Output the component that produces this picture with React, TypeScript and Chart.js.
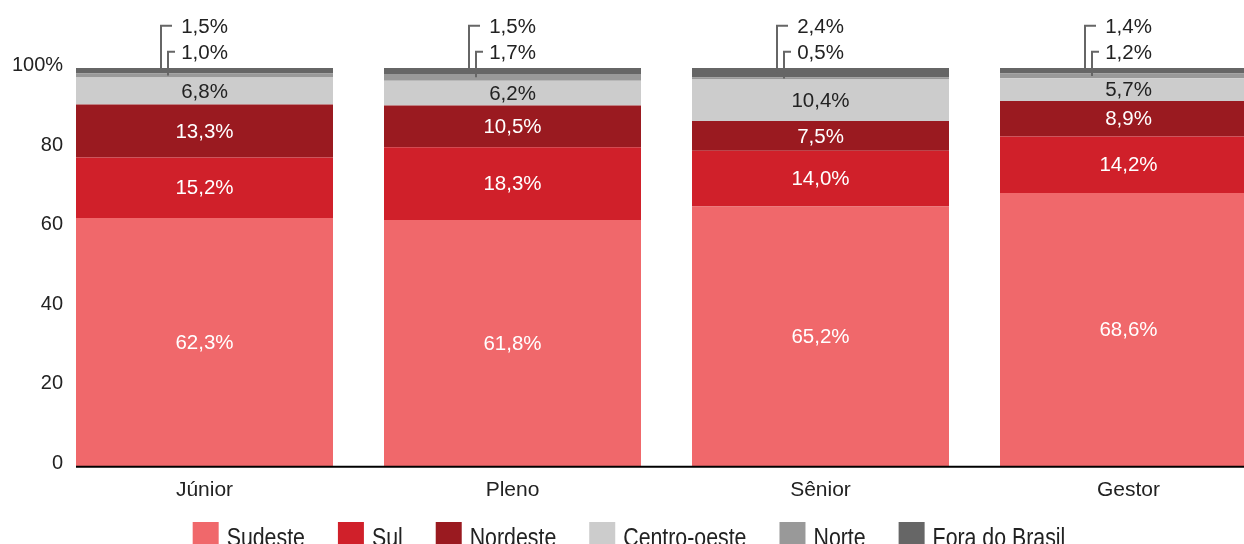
import React, { useEffect, useRef } from "react";
import { Chart, registerables } from "chart.js";

Chart.register(...registerables);

// ---- data ----
const categories = ["Júnior", "Pleno", "Sênior", "Gestor"];
const seriesNames = ["Sudeste", "Sul", "Nordeste", "Centro-oeste", "Norte", "Fora do Brasil"];
const sudeste = [62.3, 61.8, 65.2, 68.6];
const sul = [15.2, 18.3, 14.0, 14.2];
const nordeste = [13.3, 10.5, 7.5, 8.9];
const centroOeste = [6.8, 6.2, 10.4, 5.7];
const norte = [1.0, 1.7, 0.5, 1.2];
const foraDoBrasil = [1.5, 1.5, 2.4, 1.4];
const yTicks = [0, 20, 40, 60, 80, 100];

// ---- styles ----
const seriesColors = ["#F0686B", "#D0202A", "#9A1A20", "#CCCCCC", "#999999", "#666666"];
const FONT = "'Liberation Sans', Arial, Helvetica, sans-serif";
const TEXT = "#222222";

const fmt = (v: number) => v.toFixed(1).replace(".", ",") + "%";

const segLabelPlugin = {
  id: "segLabels",
  afterDatasetsDraw(chart: any) {
    const ctx = chart.ctx;
    const area = chart.chartArea;
    ctx.save();
    ctx.font = `20.5px ${FONT}`;
    ctx.textAlign = "center";
    ctx.textBaseline = "middle";
    chart.data.datasets.forEach((ds: any, di: number) => {
      const meta = chart.getDatasetMeta(di);
      meta.data.forEach((bar: any, i: number) => {
        const v = ds.data[i] as number;
        const txt = fmt(v);
        const mid = (bar.y + bar.base) / 2;
        if (di < 4) {
          ctx.fillStyle = di === 3 ? TEXT : "#ffffff";
          ctx.fillText(txt, bar.x, mid + 1);
        } else {
          // callouts above the bar
          const isFora = di === 5;
          const lineX = bar.x - (isFora ? 43.5 : 36.5);
          const lineY = area.top - (isFora ? 42.3 : 16.3);
          const hLen = isFora ? 11 : 7;
          ctx.strokeStyle = "#666666";
          ctx.lineWidth = 2;
          ctx.beginPath();
          ctx.moveTo(lineX, mid);
          ctx.lineTo(lineX, lineY);
          ctx.lineTo(lineX + hLen, lineY);
          ctx.stroke();
          ctx.fillStyle = TEXT;
          ctx.fillText(txt, bar.x, lineY + 2);
        }
      });
    });
    // baseline axis from first bar's left edge
    const first = chart.getDatasetMeta(0).data[0];
    if (first) {
      ctx.strokeStyle = "#000000";
      ctx.lineWidth = 2;
      ctx.beginPath();
      ctx.moveTo(first.x - first.width / 2, area.bottom + 0.8);
      ctx.lineTo(chart.width, area.bottom + 0.8);
      ctx.stroke();
    }
    ctx.restore();
  },
};

const LEGEND_CENTER_X = 629;
const NARROW_SCALE = 0.82;
const legendPlugin = {
  id: "customLegend",
  afterDraw(chart: any) {
    const ctx = chart.ctx;
    ctx.save();
    ctx.font = `26px ${FONT}`;
    const box = 26;
    const gap = 8;
    const spacing = 33;
    const items = chart.data.datasets.map((ds: any) => ({
      label: ds.label as string,
      color: ds.backgroundColor as string,
      w: ctx.measureText(ds.label).width * NARROW_SCALE,
    }));
    const total =
      items.reduce((a: number, it: any) => a + box + gap + it.w, 0) + spacing * (items.length - 1);
    let x = LEGEND_CENTER_X - total / 2;
    const top = chart.chartArea.bottom + 56;
    ctx.textAlign = "left";
    ctx.textBaseline = "alphabetic";
    items.forEach((it: any) => {
      ctx.fillStyle = it.color;
      ctx.fillRect(x, top, box, box);
      ctx.fillStyle = TEXT;
      ctx.save();
      ctx.translate(x + box + gap, top + 24);
      ctx.scale(NARROW_SCALE, 1);
      ctx.fillText(it.label, 0, 0);
      ctx.restore();
      x += box + gap + it.w + spacing;
    });
    ctx.restore();
  },
};

export default function App() {
  const ref = useRef<HTMLCanvasElement | null>(null);

  useEffect(() => {
    if (!ref.current) return;
    const seriesValues = [sudeste, sul, nordeste, centroOeste, norte, foraDoBrasil];
    const chart = new Chart(ref.current, {
      type: "bar",
      data: {
        labels: categories,
        datasets: seriesNames.map((name, i) => ({
          label: name,
          data: seriesValues[i],
          backgroundColor: seriesColors[i],
          borderWidth: 0,
          barPercentage: 0.8344,
          categoryPercentage: 1,
        })),
      },
      options: {
        responsive: false,
        maintainAspectRatio: false,
        devicePixelRatio: 1,
        animation: false,
        layout: { padding: { top: 68, right: 7.5, bottom: 64, left: 0 } },
        plugins: {
          legend: { display: false },
          tooltip: { enabled: false },
        },
        scales: {
          x: {
            stacked: true,
            grid: { display: false, drawTicks: false },
            border: { display: false },
            ticks: { padding: 12, color: TEXT, font: { size: 21, family: FONT } },
            afterFit: (s: any) => {
              s.height = 40;
            },
          },
          y: {
            stacked: true,
            min: 0,
            max: 100,
            grid: { display: false, drawTicks: false },
            border: { display: false },
            ticks: {
              mirror: true,
              crossAlign: "far",
              padding: -38.6,
              labelOffset: -2.5,
              color: TEXT,
              font: { size: 20, family: FONT },
              callback: (v: any) => (Number(v) === 100 ? "100%" : String(v)),
            },
            afterBuildTicks: (s: any) => {
              s.ticks = yTicks.map((v) => ({ value: v }));
            },
            afterFit: (s: any) => {
              s.width = 50.5;
            },
          },
        },
      } as any,
      plugins: [segLabelPlugin, legendPlugin],
    });
    return () => chart.destroy();
  }, []);

  return (
    <div
      style={{
        position: "fixed",
        left: 0,
        top: 0,
        width: 1244,
        height: 544,
        overflow: "hidden",
        background: "#ffffff",
      }}
    >
      <canvas ref={ref} width={1290} height={570} style={{ width: 1290, height: 570, display: "block" }} />
    </div>
  );
}
